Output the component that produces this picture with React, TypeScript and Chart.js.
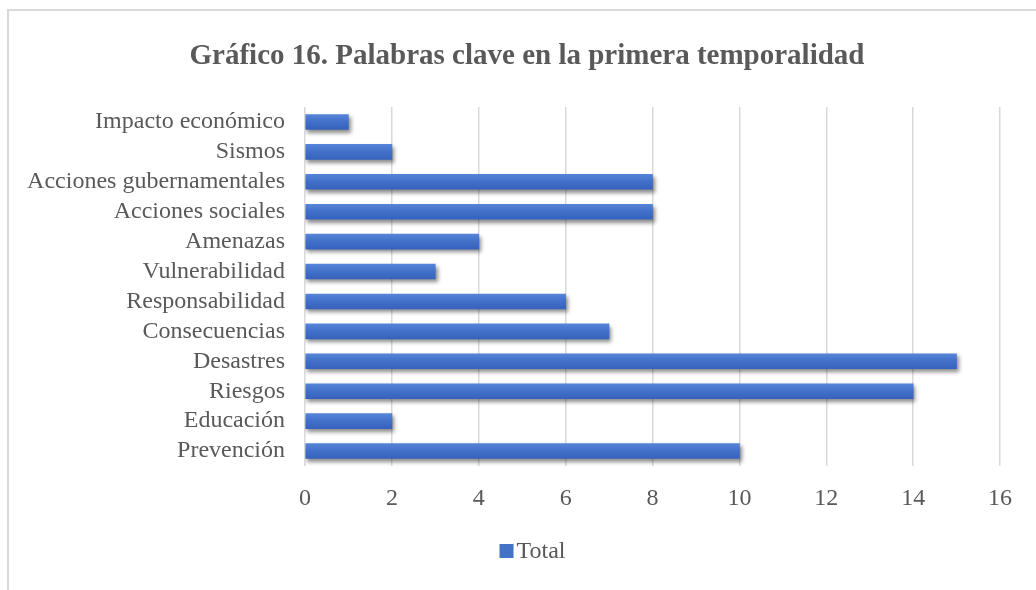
import React, { useEffect, useRef } from "react";
import { Chart, registerables } from "chart.js";

Chart.register(...registerables);

const categories = [
  "Impacto económico",
  "Sismos",
  "Acciones gubernamentales",
  "Acciones sociales",
  "Amenazas",
  "Vulnerabilidad",
  "Responsabilidad",
  "Consecuencias",
  "Desastres",
  "Riesgos",
  "Educación",
  "Prevención",
];
const totalValues = [1, 2, 8, 8, 4, 3, 6, 7, 15, 14, 2, 10];
const seriesName = "Total";
const titleText = "Gráfico 16. Palabras clave en la primera temporalidad";
const xMin = 0;
const xMax = 16;
const xStep = 2;

const FONT = "'Liberation Serif', 'Times New Roman', serif";
const GRAY = "#595959";
const BLUE = "#4472C4";

const shadowPlugin = {
  id: "barShadow",
  beforeDatasetsDraw(chart: any) {
    const ctx = chart.ctx;
    ctx.save();
    ctx.shadowColor = "rgba(0,0,0,0.45)";
    ctx.shadowBlur = 4;
    ctx.shadowOffsetX = 2;
    ctx.shadowOffsetY = 3;
  },
  afterDatasetsDraw(chart: any) {
    chart.ctx.restore();
  },
};

const titleLegendPlugin = {
  id: "titleAndLegend",
  afterDraw(chart: any) {
    const ctx = chart.ctx;
    ctx.save();
    // title
    ctx.font = `bold 29px ${FONT}`;
    ctx.fillStyle = GRAY;
    ctx.textAlign = "center";
    ctx.textBaseline = "middle";
    ctx.fillText(titleText, 518, 46);
    // legend
    const ds = chart.data.datasets[0];
    ctx.font = `24px ${FONT}`;
    const tw = ctx.measureText(ds.label).width;
    const box = 14;
    const gap = 3;
    const total = box + gap + tw;
    const cx = 523.5;
    const cy = 540;
    const x0 = cx - total / 2;
    ctx.fillStyle = BLUE;
    ctx.fillRect(x0, cy - box / 2, box, box);
    ctx.fillStyle = GRAY;
    ctx.textAlign = "left";
    ctx.fillText(ds.label, x0 + box + gap, cy + 1);
    ctx.restore();
  },
};

export default function App() {
  const ref = useRef<HTMLCanvasElement | null>(null);
  useEffect(() => {
    if (!ref.current) return;
    const chart = new Chart(ref.current, {
      type: "bar",
      data: {
        labels: categories,
        datasets: [
          {
            label: seriesName,
            data: totalValues,
            barThickness: 15,
            borderWidth: 0,
            backgroundColor: (c: any) => {
              const ch = c.chart;
              const ys = ch.scales && ch.scales.y;
              if (!ys || c.type !== "data" || c.dataIndex === undefined) return BLUE;
              const py = ys.getPixelForValue(c.dataIndex);
              if (!isFinite(py)) return BLUE;
              const g = ch.ctx.createLinearGradient(0, py - 7.5, 0, py + 7.5);
              g.addColorStop(0, "#5584d8");
              g.addColorStop(0.5, "#4270c8");
              g.addColorStop(1, "#3662bd");
              return g;
            },
          },
        ],
      },
      options: {
        indexAxis: "y",
        animation: false,
        responsive: false,
        maintainAspectRatio: false,
        layout: { padding: { top: 96, right: 36, bottom: 68, left: 0 } },
        scales: {
          x: {
            min: xMin,
            max: xMax,
            ticks: {
              stepSize: xStep,
              color: GRAY,
              font: { family: FONT, size: 24 },
              padding: 18,
            },
            grid: { color: "#d9d9d9", lineWidth: 1.5, drawTicks: false },
            border: { display: false },
            afterFit: (s: any) => {
              s.height = 56;
            },
          },
          y: {
            ticks: {
              color: GRAY,
              font: { family: FONT, size: 24 },
              padding: 20,
              autoSkip: false,
            },
            grid: { display: false, drawTicks: false },
            border: { display: false },
            afterFit: (s: any) => {
              s.width = 296;
            },
          },
        },
        plugins: {
          title: { display: false },
          legend: { display: false },
          tooltip: { enabled: false },
        },
      },
      plugins: [shadowPlugin, titleLegendPlugin],
    } as any);
    return () => chart.destroy();
  }, []);
  return (
    <div
      style={{
        position: "fixed",
        left: 7,
        top: 9,
        width: 1029,
        height: 581,
        borderLeft: "2px solid #d9d9d9",
        borderTop: "2px solid #d9d9d9",
        boxSizing: "border-box",
        background: "#fff",
      }}
    >
      <canvas ref={ref} width={1027} height={579} style={{ display: "block" }} />
    </div>
  );
}
